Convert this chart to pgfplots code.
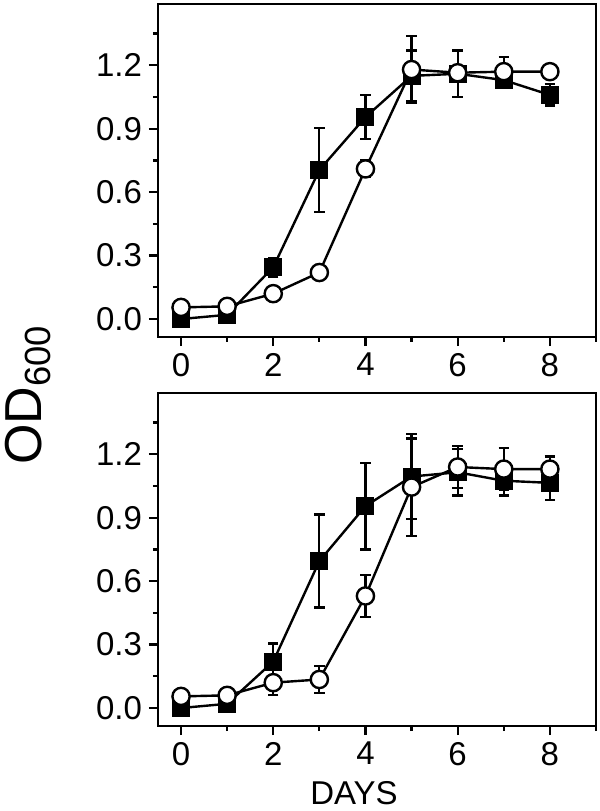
\documentclass[border=0pt]{standalone}
\usepackage{fontspec}
\setmainfont{Liberation Sans}
\usepackage{pgfplots}
\pgfplotsset{compat=1.18}

\pgfplotsset{
  odpanel/.style={
    scale only axis, width=219pt, height=166.5pt,
    xmin=-0.5, xmax=9, ymin=-0.085, ymax=1.49,
    xtick={0,2,4,6,8}, minor xtick={1,3,5,7,9},
    ytick={0,0.3,0.6,0.9,1.2}, minor ytick={0.15,0.45,0.75,1.05,1.35},
    tick align=outside, xtick pos=bottom, ytick pos=left,
    major tick length=4.5pt, minor tick length=2.5pt,
    every tick/.style={black, line width=1.1pt},
    axis line style={line width=1.3pt},
    tick label style={font=\fontsize{16.5}{19}\selectfont},
    yticklabel style={/pgf/number format/fixed, /pgf/number format/fixed zerofill,
      /pgf/number format/precision=1},
    /pgf/number format/assume math mode=true,
    clip=false,
  },
  sq/.style={black, line width=1.2pt, mark=square*, mark size=3.9pt,
    mark options={solid, fill=black},
    error bars/.cd, y dir=both, y explicit,
    error bar style={line width=1.1pt},
    error mark options={black, line width=1.1pt, mark size=2.6pt, rotate=90}},
  ci/.style={black, line width=1.2pt, mark=*, mark size=4.3pt,
    mark options={solid, fill=white},
    error bars/.cd, y dir=both, y explicit,
    error bar style={line width=1.1pt},
    error mark options={black, line width=1.1pt, mark size=2.6pt, rotate=90}},
}

% day, OD600, error
\pgfplotstableread{
d v e
0 0.00 0.01
1 0.02 0.01
2 0.245 0.045
3 0.705 0.20
4 0.955 0.105
5 1.15 0.12
6 1.16 0.11
7 1.13 0.02
8 1.06 0.05
}\topsq
\pgfplotstableread{
d v e
0 0.055 0.01
1 0.06 0.02
2 0.12 0.03
3 0.22 0.025
4 0.71 0.04
5 1.18 0.16
6 1.165 0.03
7 1.17 0.07
8 1.17 0.03
}\topci
\pgfplotstableread{
d v e
0 0.00 0.01
1 0.02 0.01
2 0.22 0.085
3 0.695 0.22
4 0.955 0.205
5 1.095 0.20
6 1.115 0.11
7 1.075 0.07
8 1.065 0.08
}\botsq
\pgfplotstableread{
d v e
0 0.055 0.01
1 0.06 0.02
2 0.12 0.06
3 0.135 0.065
4 0.53 0.10
5 1.045 0.23
6 1.14 0.10
7 1.13 0.10
8 1.13 0.06
}\botci

\begin{document}
\begin{tikzpicture}
\useasboundingbox (0,0) rectangle (300pt,405.5pt);
% ---- top panel ----
\begin{axis}[odpanel, at={(79pt,237pt)}, anchor=south west]
\addplot[sq] table[x=d, y=v, y error=e] {\topsq};
\addplot[ci] table[x=d, y=v, y error=e] {\topci};
\end{axis}
% ---- bottom panel ----
\begin{axis}[odpanel, at={(79pt,42.5pt)}, anchor=south west]
\addplot[sq] table[x=d, y=v, y error=e] {\botsq};
\addplot[ci] table[x=d, y=v, y error=e] {\botci};
\end{axis}
\node[rotate=90, font=\fontsize{26}{30}\selectfont] at (14pt,208pt) {OD\textsubscript{600}};
\node[font=\fontsize{16.5}{19}\selectfont] at (177pt,9pt) {DAYS};
\end{tikzpicture}
\end{document}
